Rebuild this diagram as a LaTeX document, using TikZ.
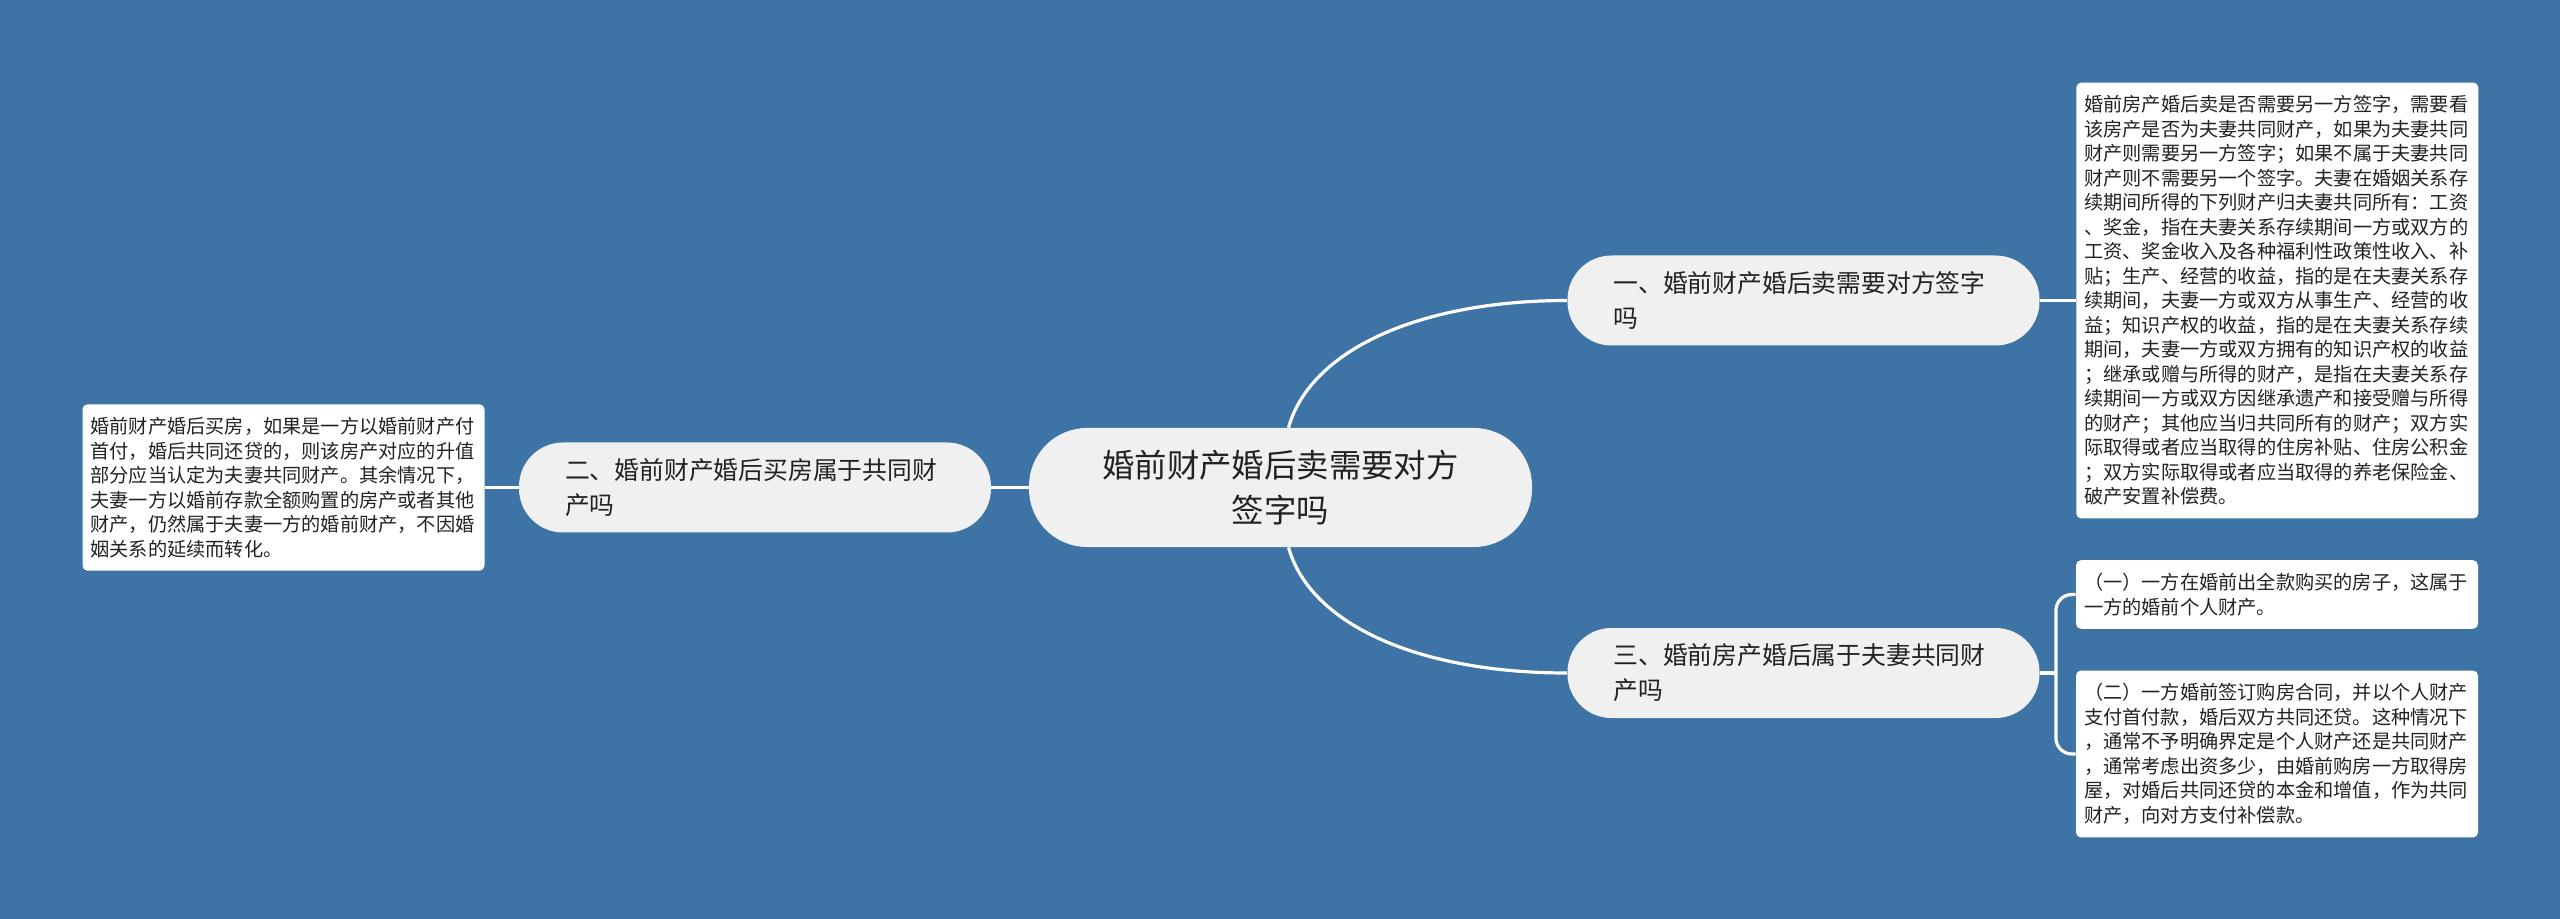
\documentclass[tikz,border=0pt]{standalone}
\usepackage{fontspec}
\setmainfont{Noto Sans CJK SC}
\usetikzlibrary{positioning}

\definecolor{bgblue}{RGB}{61,115,165}
\definecolor{nodegray}{RGB}{240,240,240}
\definecolor{txtdark}{RGB}{34,34,34}

\begin{document}
\begin{tikzpicture}[
  x=0.5pt, y=-0.5pt,
  root/.style={fill=nodegray, rounded corners=29pt, minimum width=251.5pt, minimum height=59.5pt, align=center, text=txtdark, font=\fontsize{16.2pt}{22.85pt}\selectfont},
  branch/.style={fill=nodegray, rounded corners=22pt, text width=190pt, inner xsep=23pt, inner ysep=3pt, minimum height=45pt, align=left, text=txtdark, font=\fontsize{12.4pt}{17.5pt}\selectfont},
  leaf/.style={fill=white, rounded corners=2.5pt, text width=193pt, inner xsep=4pt, inner ysep=6.5pt, align=left, text=txtdark, font=\fontsize{9.6pt}{12.25pt}\selectfont},
  link/.style={draw=white, line width=1.6pt}
]
  \useasboundingbox (0,0) rectangle (2560,919);
  \fill[bgblue] (0,0) rectangle (2560,919);

  % centre
  \node[root] (root) at (1280.5,487.5) {婚前财产婚后卖需要对方\\签字吗};

  % right side, first branch
  \node[branch] (b1) at (1803.5,300.5) {一、婚前财产婚后卖需要对方签字\\吗};
  \node[leaf, right=18pt of b1] (d1) {婚前房产婚后卖是否需要另一方签字，需要看\\该房产是否为夫妻共同财产，如果为夫妻共同\\财产则需要另一方签字；如果不属于夫妻共同\\财产则不需要另一个签字。夫妻在婚姻关系存\\续期间所得的下列财产归夫妻共同所有：工资\\、奖金，指在夫妻关系存续期间一方或双方的\\工资、奖金收入及各种福利性政策性收入、补\\贴；生产、经营的收益，指的是在夫妻关系存\\续期间，夫妻一方或双方从事生产、经营的收\\益；知识产权的收益，指的是在夫妻关系存续\\期间，夫妻一方或双方拥有的知识产权的收益\\；继承或赠与所得的财产，是指在夫妻关系存\\续期间一方或双方因继承遗产和接受赠与所得\\的财产；其他应当归共同所有的财产；双方实\\际取得或者应当取得的住房补贴、住房公积金\\；双方实际取得或者应当取得的养老保险金、\\破产安置补偿费。};

  % left side
  \node[branch] (b2) at (755,487.5) {二、婚前财产婚后买房属于共同财\\产吗};
  \node[leaf] (dL) at (283.5,487.5) {婚前财产婚后买房，如果是一方以婚前财产付\\首付，婚后共同还贷的，则该房产对应的升值\\部分应当认定为夫妻共同财产。其余情况下，\\夫妻一方以婚前存款全额购置的房产或者其他\\财产，仍然属于夫妻一方的婚前财产，不因婚\\姻关系的延续而转化。};

  % right side, third branch
  \node[branch] (b3) at (1803.5,673) {三、婚前房产婚后属于夫妻共同财\\产吗};
  \node[leaf] (d2) at (2277,594.5) {（一）一方在婚前出全款购买的房子，这属于\\一方的婚前个人财产。};
  \node[leaf] (d3) at (2277,754) {（二）一方婚前签订购房合同，并以个人财产\\支付首付款，婚后双方共同还贷。这种情况下\\，通常不予明确界定是个人财产还是共同财产\\，通常考虑出资多少，由婚前购房一方取得房\\屋，对婚后共同还贷的本金和增值，作为共同\\财产，向对方支付补偿款。};

  % links
  \draw[link] (root.west) -- (b2.east);
  \draw[link] (b2.west) -- (dL.east);
  \draw[link] ([xshift=4pt]root.north) .. controls +(22,-78) and +(-147,0) .. (b1.west);
  \draw[link] ([xshift=4pt]root.south) .. controls +(22,78) and +(-147,0) .. (b3.west);
  \draw[link] (b1.east) -- (d1.west);
  \coordinate (s3) at ([xshift=8pt]b3.east);
  \draw[link] (b3.east) -- (s3);
  \draw[link, rounded corners=8pt] (d2.west) -| (s3) |- (d3.west);
\end{tikzpicture}
\end{document}
